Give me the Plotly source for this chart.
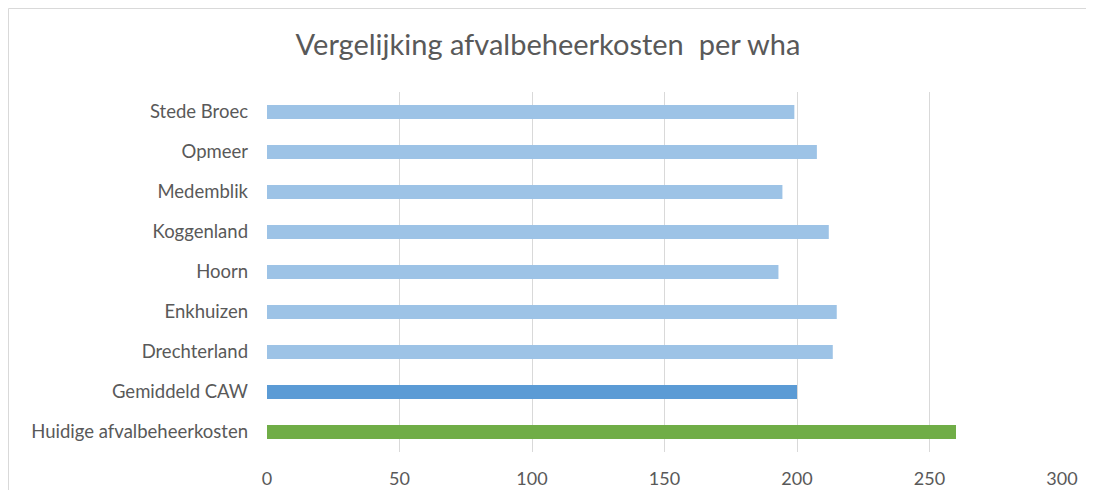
import plotly.graph_objects as go

categories = ["Stede Broec", "Opmeer", "Medemblik", "Koggenland", "Hoorn",
              "Enkhuizen", "Drechterland", "Gemiddeld CAW", "Huidige afvalbeheerkosten"]
values = [199, 207.5, 194.5, 212, 193, 215, 213.5, 200, 260]
colors = ["#9DC3E6"] * 7 + ["#5B9BD5", "#70AD47"]
x_ticks = [0, 50, 100, 150, 200, 250, 300]

font_family = "Lato, 'Open Sans', sans-serif"

W, H = 1078, 482
L, T, PW, PH = 259, 84, 795, 360

fig = go.Figure(go.Bar(
    y=categories, x=values, orientation="h",
    marker=dict(color=colors, line=dict(width=0)),
    width=0.35,
))

fig.update_layout(
    width=W, height=H,
    margin=dict(l=L, r=W - L - PW, t=T, b=H - T - PH, autoexpand=False),
    paper_bgcolor="white", plot_bgcolor="white",
    font=dict(family=font_family, color="#595959", size=18),
    title=dict(text="Vergelijking afvalbeheerkosten  per wha", x=(548 - 8) / W, xanchor="center",
               y=1 - 37 / H, yanchor="middle",
               font=dict(size=29, color="#595959", family=font_family)),
    showlegend=False,
    xaxis=dict(range=[0, 300], tickvals=x_ticks, showgrid=True, gridcolor="#D9D9D9",
               gridwidth=1, zeroline=False, showline=False, ticks="",
               ticklabelstandoff=14, automargin=False,
               tickfont=dict(size=18, color="#595959")),
    yaxis=dict(autorange="reversed", showgrid=False, zeroline=False, showline=False,
               ticks="", ticklabelstandoff=18, automargin=False,
               tickfont=dict(size=18.5, color="#595959")),
    shapes=[dict(type="rect", xref="paper", yref="paper",
                 x0=(0.5 - L) / PW, x1=(W + 5 - L) / PW,
                 y0=(T + PH - H - 5) / PH, y1=1 + (T - 0.5) / PH,
                 line=dict(color="#D9D9D9", width=1), fillcolor="rgba(0,0,0,0)",
                 layer="below")],
)

fig.write_html("out.html")
